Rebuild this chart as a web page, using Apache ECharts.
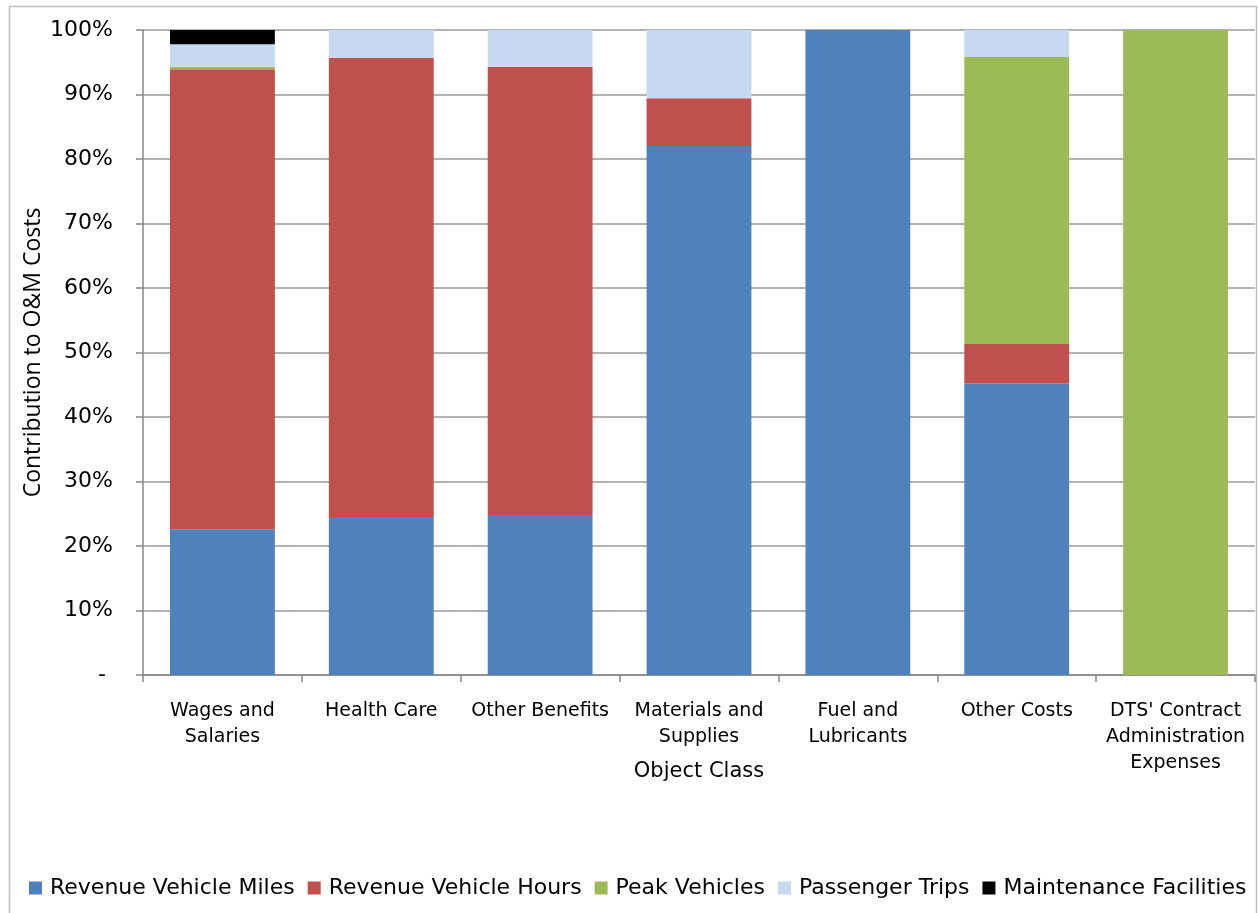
<!DOCTYPE html>
<html>
<head>
<meta charset="utf-8">
<title>Contribution to O&amp;M Costs by Object Class</title>
<script src="https://cdn.jsdelivr.net/npm/echarts@6.0.0/dist/echarts.min.js"></script>
<style>
    html, body { margin: 0; padding: 0; background: #fff; }
    #chart { width: 1259px; height: 913px; }
</style>
</head>
<body>
<div id="chart"></div>
<script>
// categories on the x axis (object classes)
const categories = [
    'Wages and\nSalaries',
    'Health Care',
    'Other Benefits',
    'Materials and\nSupplies',
    'Fuel and\nLubricants',
    'Other Costs',
    "DTS' Contract\nAdministration\nExpenses"
];

// share of each cost driver, in percent
const revenueVehicleMiles = [22.6, 24.5, 24.8, 82.0, 100, 45.2, 0];
const revenueVehicleHours = [71.3, 71.2, 69.5, 7.4, 0, 6.1, 0];
const peakVehicles = [0.4, 0, 0, 0, 0, 44.5, 100];
const passengerTrips = [3.5, 4.3, 5.7, 10.6, 0, 4.2, 0];
const maintenanceFacilities = [2.2, 0, 0, 0, 0, 0, 0];

const seriesNames = [
    'Revenue Vehicle Miles',
    'Revenue Vehicle Hours',
    'Peak Vehicles',
    'Passenger Trips',
    'Maintenance Facilities'
];
const seriesData = [
    revenueVehicleMiles,
    revenueVehicleHours,
    peakVehicles,
    passengerTrips,
    maintenanceFacilities
];
const colors = ['#4F81BD', '#C0504D', '#9BBB59', '#C6D9F1', '#000000'];

const chart = echarts.init(document.getElementById('chart'));

const option = {
    animation: false,
    color: colors,
    textStyle: {
        fontFamily: 'DejaVu Sans',
        color: '#000'
    },
    graphic: [
        {
            // light frame round the chart area
            type: 'rect',
            shape: { x: 9.5, y: 6.5, width: 1247, height: 930 },
            style: { fill: 'none', stroke: '#bfbfbf', lineWidth: 1.5 },
            silent: true
        }
    ],
    grid: {
        left: 143,
        right: 4,
        top: 30,
        bottom: 238
    },
    legend: {
        data: seriesNames,
        left: 24,
        top: 872,
        icon: 'rect',
        itemWidth: 13,
        itemHeight: 13,
        itemGap: 13,
        textStyle: {
            fontFamily: 'DejaVu Sans',
            fontSize: 22,
            color: '#000',
            padding: [0, 0, 0, 3]
        }
    },
    xAxis: {
        type: 'category',
        data: categories,
        name: 'Object Class',
        nameLocation: 'middle',
        nameGap: 86,
        nameMoveOverlap: false,
        nameTextStyle: {
            fontFamily: 'DejaVu Sans',
            fontSize: 21,
            color: '#000'
        },
        axisLine: {
            lineStyle: { color: '#868686', width: 1.5 }
        },
        axisTick: {
            show: true,
            length: 7,
            lineStyle: { color: '#868686', width: 1.5 }
        },
        axisLabel: {
            interval: 0,
            margin: 23,
            fontSize: 19,
            lineHeight: 26,
            color: '#000'
        }
    },
    yAxis: {
        type: 'value',
        min: 0,
        max: 100,
        interval: 10,
        name: 'Contribution to O&M Costs',
        nameLocation: 'middle',
        nameGap: 98,
        nameMoveOverlap: false,
        nameTextStyle: {
            fontFamily: 'Open Sans',
            fontSize: 23,
            color: '#000'
        },
        axisLine: {
            show: true,
            lineStyle: { color: '#868686', width: 1.5 }
        },
        axisTick: {
            show: true,
            length: 7,
            lineStyle: { color: '#868686', width: 1.5 }
        },
        splitLine: {
            lineStyle: { color: '#9a9a9a', width: 1.5 }
        },
        axisLabel: {
            margin: 30,
            fontSize: 22,
            color: '#000',
            formatter: function (value) {
                return value === 0 ? '- ' : value + '%';
            }
        }
    },
    series: seriesNames.map(function (name, i) {
        return {
            name: name,
            type: 'bar',
            stack: 'total',
            barCategoryGap: '34%',
            data: seriesData[i],
            itemStyle: { color: colors[i] }
        };
    })
};

chart.setOption(option);
</script>
</body>
</html>
